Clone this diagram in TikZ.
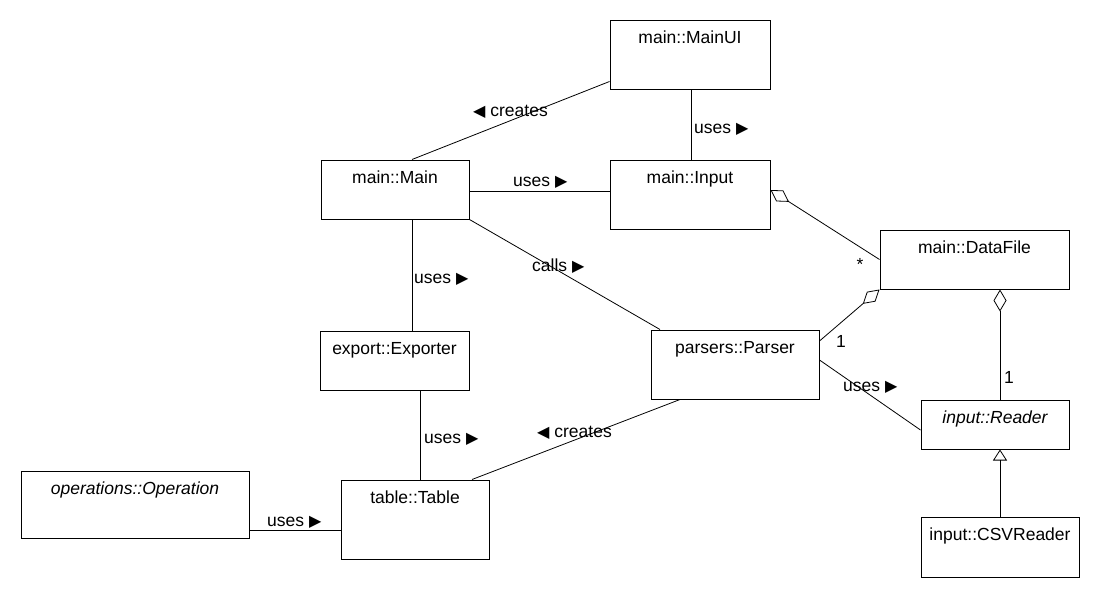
\documentclass[tikz,border=0pt]{standalone}
\usepackage{fontspec}
\setmainfont{Liberation Sans}
\newfontfamily\symfont{DejaVu Sans}
\usetikzlibrary{arrows.meta}
\newcommand\myRtri{{\symfont\fontsize{16}{16}\selectfont ▶}}
\newcommand\myLtri{{\symfont\fontsize{16}{16}\selectfont ◀}}
\begin{document}
\begin{tikzpicture}[x=1pt,y=-1pt,
  cls/.style={draw, line width=1pt, inner xsep=0pt, inner ysep=0pt, text height=23pt, font=\fontsize{17.5}{20}\selectfont},
  conn/.style={line width=0.8pt},
  lbl/.style={inner sep=0pt, anchor=base west, font=\fontsize{17.5}{20}\selectfont},
  mult/.style={inner sep=0pt, anchor=base, font=\fontsize{17.5}{20}\selectfont},
  agg/.style={-{Diamond[open, length=22pt, width=13pt, line width=0.8pt]}},
  gen/.style={-{Triangle[open, length=11pt, width=14pt, line width=0.8pt]}},
]
\useasboundingbox[fill=white] (0,0) rectangle (1100,600);

% classes
\node[cls, minimum width=160pt, text depth=46pt] (mainui) at (690,54.5) {main::MainUI};
\node[cls, minimum width=148pt, text depth=36pt] (main) at (395,189.5) {main::Main};
\node[cls, minimum width=160pt, text depth=46pt] (input) at (690,194.5) {main::Input};
\node[cls, minimum width=189pt, text depth=36pt] (datafile) at (974.5,259.5) {main::DataFile};
\node[cls, minimum width=149pt, text depth=36pt] (exporter) at (394.5,360.5) {export::Exporter};
\node[cls, minimum width=168pt, text depth=46pt] (parser) at (735,364.5) {parsers::Parser};
\node[cls, minimum width=148pt, text depth=26pt] (reader) at (995,424.5) {\itshape input::Reader};
\node[cls, minimum width=158pt, text depth=37pt] (csv) at (1000,547) {input::CSVReader};
\node[cls, minimum width=148pt, text depth=56pt] (table) at (415,519.5) {table::Table};
\node[cls, minimum width=228pt, text depth=44pt] (operation) at (135,504.5) {\itshape operations::Operation};

% connectors
\draw[conn] ([yshift=8pt]mainui.south west) -- ([xshift=17pt]main.north);
\draw[conn] ([xshift=1pt]mainui.south) -- ([xshift=1pt]input.north);
\draw[conn] ([yshift=-1.5pt]main.east) -- ([yshift=3.5pt]input.west);
\draw[conn] (main.south east) -- ([xshift=-75pt]parser.north);
\draw[conn] ([xshift=17pt]main.south) -- ([xshift=17.5pt]exporter.north);
\draw[conn] ([xshift=25.5pt]exporter.south) -- ([xshift=5pt]table.north);
\draw[conn] ([xshift=-55pt]parser.south) -- ([xshift=57pt]table.north);
\draw[conn] ([yshift=-25.5pt]operation.east) -- ([yshift=-10.5pt]table.west);
\draw[conn, agg] (datafile.west) -- ([yshift=4.5pt]input.east);
\draw[conn, agg] ([yshift=23.5pt]parser.east) -- (datafile.south west);
\draw[conn, agg] ([xshift=5pt]reader.north) -- ([xshift=25.5pt]datafile.south);
\draw[conn] ([yshift=4.5pt]parser.east) -- ([yshift=-5.5pt]reader.west);
\draw[conn, gen] (csv.north) -- ([xshift=5pt]reader.south);

% labels
\node[lbl] (lcr1) at (473,116) {\myLtri\ creates};
\node[lbl] (lus1) at (694,133) {uses \myRtri};
\node[lbl] (lus2) at (513,186) {uses \myRtri};
\node[lbl] (lcal) at (532,271) {calls \myRtri};
\node[lbl] (lus3) at (414,283) {uses \myRtri};
\node[lbl] (lus4) at (424,443) {uses \myRtri};
\node[lbl] (lcr2) at (537,437) {\myLtri\ creates};
\node[lbl] (lus5) at (267,526) {uses \myRtri};
\node[lbl] (lus6) at (843,391) {uses \myRtri};
\node[mult] (mstar) at (860,270) {*};
\node[mult] (mone1) at (841,347) {1};
\node[mult] (mone2) at (1009,383) {1};
\end{tikzpicture}
\end{document}
